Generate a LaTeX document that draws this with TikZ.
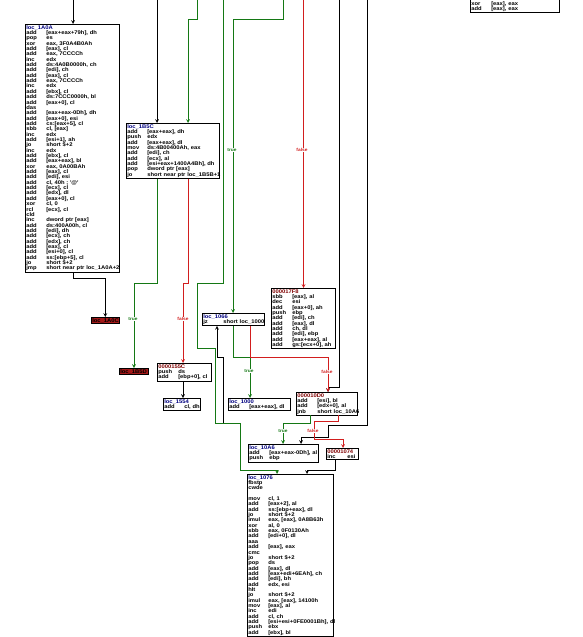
\documentclass[tikz,border=0pt]{standalone}
\usepackage{fontspec}
\usepackage{tikz}
\usetikzlibrary{arrows,positioning}
\newfontfamily\idafont[FakeStretch=1.1]{Liberation Sans}
\definecolor{edgegreen}{RGB}{20,120,20}
\definecolor{edgered}{RGB}{210,30,30}
\definecolor{deadred}{RGB}{165,25,25}
\definecolor{lblnavy}{RGB}{0,0,128}
\definecolor{lblmaroon}{RGB}{128,0,0}
\newcommand{\ins}[2]{\mbox{\makebox[20pt][l]{#1}#2}}
\newcommand{\lbl}[1]{\mbox{\textcolor{lblnavy}{#1}}}
\newcommand{\adr}[1]{\mbox{\textcolor{lblmaroon}{#1}}}
\tikzstyle{block} = [draw, fill=white, line width=0.6pt, inner sep=1pt, anchor=north west,
    align=left, font=\idafont\bfseries\fontsize{5.3}{5.35}\selectfont]
\tikzstyle{deadblock} = [block, fill=deadred]
\tikzstyle{flow} = [line width=0.7pt, ->, >=stealth]
\tikzstyle{jump} = [flow, draw=black]
\tikzstyle{truebranch} = [flow, draw=edgegreen]
\tikzstyle{falsebranch} = [flow, draw=edgered]
\tikzstyle{cond} = [fill=white, inner sep=0.4pt, font=\idafont\bfseries\fontsize{4.4}{5}\selectfont]

\begin{document}
\begin{tikzpicture}[x=1pt, y=-1pt]
\useasboundingbox (0,0) rectangle (582,637);
\clip (0,0) rectangle (582,637);

\coordinate (in1) at (73,0);
\coordinate (in2) at (157,0);
\coordinate (in3) at (197,0);
\coordinate (in4) at (223,0);
\coordinate (in5) at (283,0);
\coordinate (in6) at (303.5,0);
\coordinate (in7) at (339,0);
\coordinate (in8) at (367,0);

\node[block, text width=92pt] (loc1a0a) at (25,24) {\lbl{loc\_1A0A}\\
\ins{add}{[eax+eax+79h], dh}\\ \ins{pop}{es}\\ \ins{xor}{eax, 3F0A4B0Ah}\\
\ins{add}{[eax], cl}\\ \ins{add}{eax, 7CCCCh}\\ \ins{inc}{edx}\\
\ins{add}{ds:4A0B0000h, ch}\\ \ins{add}{[edi], ch}\\ \ins{add}{[eax], cl}\\
\ins{add}{eax, 7CCCCh}\\ \ins{inc}{edx}\\ \ins{add}{[ebx], cl}\\
\ins{add}{ds:7CCC0000h, bl}\\ \ins{add}{[eax+0], cl}\\ \ins{das}{}\\
\ins{add}{[eax+eax-0Dh], dh}\\ \ins{add}{[eax+0], esi}\\ \ins{add}{cs:[eax+5], cl}\\
\ins{sbb}{cl, [eax]}\\ \ins{inc}{edx}\\ \ins{add}{[esi+1], ah}\\
\ins{jo}{short \$+2}\\ \ins{inc}{edx}\\ \ins{add}{[ebx], cl}\\
\ins{add}{[eax+eax], bl}\\ \ins{xor}{eax, 0A00BAh}\\ \ins{add}{[eax], cl}\\
\ins{add}{[edi], esi}\\ \ins{add}{cl, 40h ; '@'}\\ \ins{add}{[ecx], cl}\\
\ins{add}{[edx], dl}\\ \ins{add}{[eax+0], cl}\\ \ins{xor}{cl, 0}\\
\ins{rcl}{[ecx], cl}\\ \ins{cld}{}\\ \ins{inc}{dword ptr [eax]}\\
\ins{add}{ds:400A00h, cl}\\ \ins{add}{[edi], dh}\\ \ins{add}{[ecx], ch}\\
\ins{add}{[edx], ch}\\ \ins{add}{[eax], cl}\\ \ins{add}{[esi+0], cl}\\
\ins{add}{ss:[ebp+5], cl}\\ \ins{jo}{short \$+2}\\
\ins{jmp}{short near ptr loc\_1A0A+2}};

\node[block, text width=91pt] (loc1b5c) at (126,123) {\lbl{loc\_1B5C}\\
\ins{add}{[eax+eax], dh}\\ \ins{push}{edx}\\ \ins{add}{[eax+eax], dl}\\
\ins{mov}{ds:4B00400Ah, eax}\\ \ins{add}{[edi], ch}\\ \ins{add}{[ecx], al}\\
\ins{add}{[esi+eax+1400A4Bh], dh}\\ \ins{pop}{dword ptr [eax]}\\
\ins{jo}{short near ptr loc\_1B5B+1}};

\node[deadblock, text width=26pt] (loc1a0c) at (91,317) {\mbox{loc\_1A0C}};
\node[deadblock, text width=27pt] (loc1b5d) at (119,368) {\mbox{loc\_1B5D}};

\node[block, text width=52pt] (loc155c) at (157,363) {\adr{0000155C}\\
\ins{push}{ds}\\ \ins{add}{[ebp+0], cl}};
\node[block, text width=35pt] (loc1554) at (163,398) {\lbl{loc\_1554}\\
\ins{add}{cl, dh}};
\node[block, text width=60pt] (loc1066) at (202,313) {\lbl{loc\_1066}\\
\ins{jz}{short loc\_1000}};
\node[block, text width=62pt] (loc17f8) at (271,288) {\adr{000017F8}\\
\ins{sbb}{[eax], al}\\ \ins{dec}{esi}\\ \ins{add}{[eax+0], ah}\\
\ins{push}{ebp}\\ \ins{add}{[edi], ch}\\ \ins{add}{[eax], dl}\\
\ins{add}{ch, dl}\\ \ins{add}{[edi], ebp}\\ \ins{add}{[eax+eax], al}\\
\ins{add}{gs:[ecx+0], ah}};
\node[block, text width=60pt] (loc1000) at (228,398) {\lbl{loc\_1000}\\
\ins{add}{[eax+eax], dl}};
\node[block, text width=59pt] (loc10d0) at (296,392) {\adr{000010D0}\\
\ins{add}{[esi], bl}\\ \ins{add}{[edx+0], al}\\ \ins{jnb}{short loc\_10A6}};
\node[block, text width=68pt] (loc10a6) at (248,444) {\lbl{loc\_10A6}\\
\ins{add}{[eax+eax-0Dh], al}\\ \ins{push}{ebp}};
\node[block, text width=30pt] (loc1074) at (326,448) {\adr{00001074}\\
\ins{inc}{esi}};
\node[block, text width=84pt] (loc1076) at (247,474) {\lbl{loc\_1076}\\
fbstp\\ cwde\\ \mbox{}\\
\ins{mov}{cl, 1}\\ \ins{add}{[eax+2], al}\\ \ins{add}{ss:[ebp+eax], dl}\\
\ins{jo}{short \$+2}\\ \ins{imul}{eax, [eax], 0A8B63h}\\ \ins{xor}{al, 0}\\
\ins{sbb}{eax, 0F0130Ah}\\ \ins{add}{[edi+0], dl}\\ \ins{aaa}{}\\
\ins{add}{[eax], eax}\\ \ins{cmc}{}\\ \ins{jo}{short \$+2}\\ \ins{pop}{ds}\\
\ins{add}{[eax], dl}\\ \ins{add}{[eax+edi+6EAh], ch}\\ \ins{add}{[edi], bh}\\
\ins{add}{edx, esi}\\ \ins{hlt}{}\\ \ins{jo}{short \$+2}\\
\ins{imul}{eax, [eax], 14100h}\\ \ins{mov}{[eax], al}\\ \ins{inc}{edi}\\
\ins{add}{cl, ch}\\ \ins{add}{[esi+esi+0FE0001Bh], dl}\\ \ins{push}{ebx}\\
\ins{add}{[ebx], bl}};
\node[block, text width=87pt, anchor=south west] (loc1f00) at (470,13) {\mbox{}\\
\ins{xor}{[eax], eax}\\ \ins{add}{[eax], eax}};

\draw[jump] (in1) -- (loc1a0a.north -| in1);
\draw[jump] (in2) -- (loc1b5c.north -| in2);
\draw[truebranch] (in3) -- ++(0,19) -| (loc1b5c.north -| 188,0);
\draw[truebranch] (in4) |- (197,283) |- (215,348) |- (240,423) |- (277,470) -- (loc1076.north -| 277,0);
\draw[truebranch] (in5) -- ++(0,19) -| (loc1066.north -| 233,0);
\draw[falsebranch] (in6) -- (loc17f8.north -| in6);
\draw[jump] (in7) |- (328,387) -- (loc10d0.north -| 328,0);
\draw[jump] (in8) |- (328,425) |- (301,437) -- (loc10a6.north -| 301,0);
\draw[jump] (loc1a0a.south -| in1) -- ++(0,6) -| (loc1a0c.north);
\draw[truebranch] (loc1b5c.south -| in2) |- (134,283) -- (loc1b5d.north -| 134,0);
\draw[falsebranch] (loc1b5c.south -| 188,0) |- (183,283) -- (loc155c.north -| 183,0);
\draw[jump] (loc155c.south -| 183,0) -- (loc1554.north -| 183,0);
\draw[jump, <-] (loc1066.south -| 217,0) |- (223,357) -- (223,423);
\draw[truebranch] (loc1066.south -| 233,0) |- (250,357) -- (loc1000.north -| 250,0);
\draw[falsebranch] (loc1066.south -| 250,0) |- (328,357) -- (loc10d0.north -| 328,0);
\draw[truebranch] (loc10d0.south -| 310,0) |- (283,423) -- (loc10a6.north -| 283,0);
\draw[falsebranch] (loc10d0.south -| 338,0) |- (314,421) |- (343,439) -- (loc1074.north -| 343,0);
\draw[jump] (loc1074.south -| 335,0) |- (307,470) -- (loc1076.north -| 307,0);

\node[cond, text=edgegreen] (c1) at (232,150) {true};
\node[cond, text=edgered] (c2) at (302,150) {false};
\node[cond, text=edgegreen] (c3) at (133,319) {true};
\node[cond, text=edgered] (c4) at (183,319) {false};
\node[cond, text=edgegreen] (c5) at (249,371) {true};
\node[cond, text=edgered] (c6) at (327,372) {false};
\node[cond, text=edgegreen] (c7) at (283,431) {true};
\node[cond, text=edgered] (c8) at (313,431) {false};
\end{tikzpicture}
\end{document}
